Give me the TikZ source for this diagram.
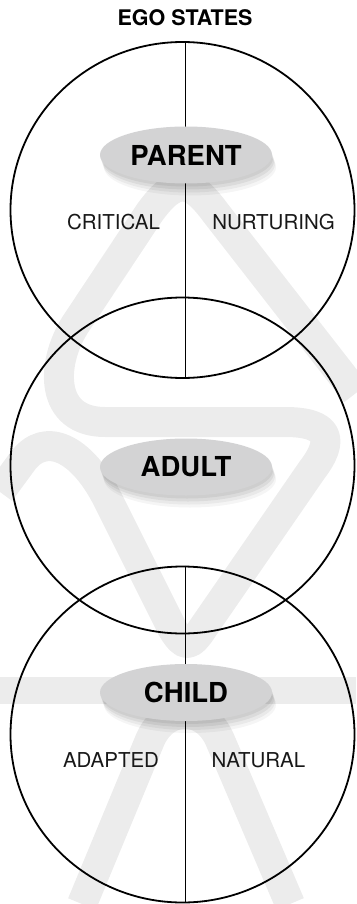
\documentclass[tikz,border=0pt]{standalone}
\usepackage{fontspec}
\setmainfont{TeX Gyre Heros}
\usepackage{tikz}
\usetikzlibrary{shapes.geometric,calc}
\definecolor{markgray}{RGB}{236,236,236}
\definecolor{capsulegray}{RGB}{211,211,212}
\definecolor{inkgray}{RGB}{24,24,24}

\begin{document}
\begin{tikzpicture}[x=1pt, y=-1pt,
  egoring/.style={draw, ellipse, line width=1.8pt, minimum width=344pt, minimum height=336pt, inner sep=0pt},
  statecap/.style={ellipse, fill=capsulegray, minimum width=172pt, minimum height=57pt, inner sep=0pt,
    font=\fontsize{27.5}{30}\selectfont\bfseries,
    preaction={fill=black, opacity=0.06, transform canvas={shift={(1pt,-3pt)}}},
    preaction={fill=black, opacity=0.06, transform canvas={shift={(2pt,-6pt)}}},
    preaction={fill=black, opacity=0.05, transform canvas={shift={(3pt,-9pt)}}},
    preaction={fill=black, opacity=0.04, transform canvas={shift={(4pt,-12pt)}}}},
  sublabel/.style={font=\fontsize{20.5}{24}\selectfont, text=inkgray, inner sep=0pt},
  wmband/.style={draw=markgray, line width=30pt, line join=round}]
\useasboundingbox (0,0) rectangle (356,904);
\draw[wmband] (356,393) -- (215,212) .. controls (190,178) and (175,178) .. (150,212) -- (75,325)
  .. controls (50,365) and (50,422) .. (105,422) -- (285,422) .. controls (330,422) and (335,440) .. (312,470)
  -- (203,628) .. controls (190,648) and (184,648) .. (172,628) -- (108,500)
  .. controls (82,448) and (45,430) .. (22,462) -- (0,492);
\draw[wmband, line width=27pt] (0,690) -- (356,690);
\draw[wmband] (82,904) -- (150,740) .. controls (165,705) and (205,705) .. (220,740) -- (290,904);
\node[font=\fontsize{21.5}{24}\selectfont\bfseries, inner sep=0pt] (title) at (185,17.5) {EGO STATES};
\node[egoring] (parentring) at (182.5,210) {};
\node[egoring] (adultring) at (182.5,465.5) {};
\node[egoring] (childring) at (182.5,734.5) {};
\draw[line width=0.8pt] (parentring.north -| title) -- (parentring.south -| title);
\draw[line width=0.8pt] (childring.north -| title) -- (childring.south -| title);
\node[statecap] (parent) at (186,155) {PARENT};
\node[statecap] (adult) at (186,467) {ADULT};
\node[statecap] (child) at (186,692.5) {CHILD};
\node[sublabel] (critical) at (113.5,222.5) {CRITICAL};
\node[sublabel] (nurturing) at (273.5,222.5) {NURTURING};
\node[sublabel] (adapted) at (111,760) {ADAPTED};
\node[sublabel] (natural) at (258.5,760) {NATURAL};
\end{tikzpicture}
\end{document}
